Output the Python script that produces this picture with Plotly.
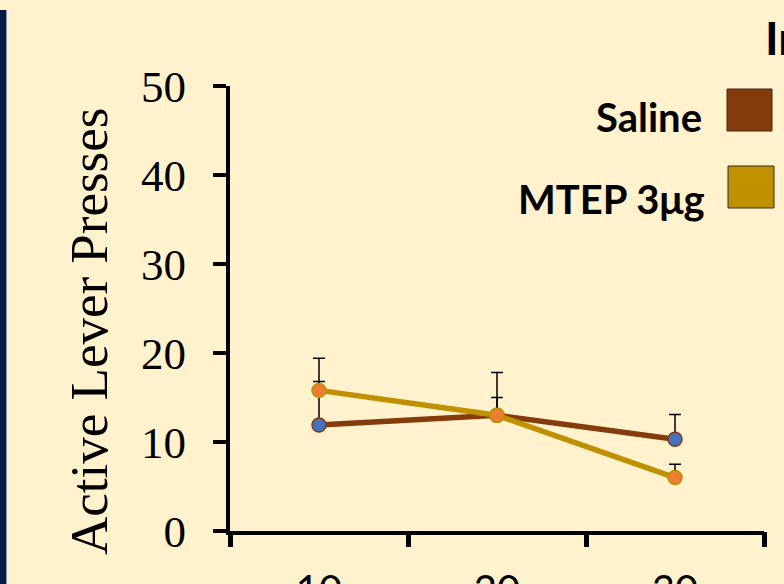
import plotly.graph_objects as go

# ---- data ----
categories = ["10", "20", "30"]
x_pos = [1, 2, 3]
saline_values = [11.9, 13.0, 10.3]
saline_errors = [4.9, 2.0, 2.8]
mtep_values = [15.8, 13.0, 6.0]
mtep_errors = [3.6, 4.8, 1.5]
series_names = ["Saline", "MTEP 3μg"]
y_ticks = [0, 10, 20, 30, 40, 50]
y_title = "Active Lever Presses"
chart_title = "In"

BG = "#FFF2CC"
BROWN = "#843C0C"
GOLD = "#BF9000"
BLUE = "#4472C4"
ORANGE = "#ED7D31"

# plot area in pixels
W, H = 784, 584
L, R, T, B = 230, 20, 86, 53
PW, PH = W - L - R, H - T - B


def px(x):
    return (x - L) / PW


def py(y):
    return (H - B - y) / PH


fig = go.Figure()

fig.add_trace(go.Scatter(
    x=x_pos, y=saline_values, name=series_names[0], mode="lines+markers",
    line=dict(color=BROWN, width=5.5),
    marker=dict(size=14, color=BLUE, line=dict(color=BROWN, width=1.5)),
    error_y=dict(type="data", array=saline_errors, arrayminus=[0, 0, 0],
                 symmetric=False, color="black", thickness=1.5, width=6),
    showlegend=False,
))
fig.add_trace(go.Scatter(
    x=x_pos, y=mtep_values, name=series_names[1], mode="lines+markers",
    line=dict(color=GOLD, width=5.5),
    marker=dict(size=14, color=ORANGE, line=dict(color=GOLD, width=1.5)),
    error_y=dict(type="data", array=mtep_errors, arrayminus=[0, 0, 0],
                 symmetric=False, color="black", thickness=1.5, width=6),
    showlegend=False,
))

# invisible trace to activate overlay axis
fig.add_trace(go.Scatter(x=[x_pos[0]], y=[0], xaxis="x2", mode="markers",
                         marker=dict(opacity=0), showlegend=False, hoverinfo="skip"))

shapes = [
    # navy side bar
    dict(type="rect", xref="paper", yref="paper", x0=px(0), x1=px(6), y0=py(584), y1=py(10),
         fillcolor="#051942", line=dict(width=0), layer="above"),
    dict(type="line", xref="paper", yref="paper", x0=px(6.5), x1=px(6.5), y0=py(584), y1=py(10),
         line=dict(color="#8C96A8", width=1), layer="above"),
    # legend swatches
    dict(type="rect", xref="paper", yref="paper", x0=px(727), x1=px(772), y0=py(131), y1=py(89),
         fillcolor=BROWN, line=dict(color="#3A2A1A", width=1)),
    dict(type="rect", xref="paper", yref="paper", x0=px(728), x1=px(774), y0=py(208), y1=py(166),
         fillcolor=GOLD, line=dict(color="#3A2A1A", width=1)),
]

annotations = [
    dict(text=series_names[0], xref="paper", yref="paper", x=px(704), y=py(117),
         xanchor="right", yanchor="middle", showarrow=False,
         font=dict(family="Lato", size=40, color="black", weight="bold")),
    dict(text=series_names[1], xref="paper", yref="paper", x=px(707), y=py(199),
         xanchor="right", yanchor="middle", showarrow=False,
         font=dict(family="Lato", size=40, color="black", weight="bold")),
    dict(text=chart_title, xref="paper", yref="paper", x=px(763), y=py(37),
         xanchor="left", yanchor="middle", showarrow=False,
         font=dict(family="Lato", size=46, color="black", weight="bold")),
    dict(text=y_title, xref="paper", yref="paper", x=px(89), y=py(332),
         xanchor="center", yanchor="middle", textangle=-90, showarrow=False,
         font=dict(family="Liberation Serif", size=53, color="black")),
]

fig.update_layout(
    width=W, height=H,
    margin=dict(l=L, r=R, t=T, b=B, pad=0, autoexpand=False),
    paper_bgcolor=BG, plot_bgcolor=BG,
    shapes=shapes, annotations=annotations,
    xaxis=dict(range=[0.5, 3.5], tickvals=x_pos, ticktext=categories, automargin=False,
               ticks="outside", ticklen=21, tickcolor="rgba(0,0,0,0)",
               showline=True, linecolor="black", linewidth=4, showgrid=False, zeroline=False,
               tickfont=dict(family="Lato", size=40, color="black")),
    xaxis2=dict(overlaying="x", anchor="y", side="bottom", matches="x", automargin=False,
                tickvals=[0.5, 1.5, 2.5, 3.5], ticks="outside", ticklen=15, tickwidth=5,
                tickcolor="black", showticklabels=False, showline=False, showgrid=False,
                zeroline=False),
    yaxis=dict(range=[0, 50], tickvals=y_ticks, ticks="outside", ticklen=13, tickwidth=4,
               tickcolor="black", showline=True, linecolor="black", linewidth=4,
               showgrid=False, zeroline=False, ticklabelstandoff=18, automargin=False,
               tickfont=dict(family="Liberation Serif", size=45, color="black")),
)

fig.write_html("out.html", config={"displayModeBar": False},
               post_script="document.body.style.margin='0';document.body.style.overflow='hidden';")
